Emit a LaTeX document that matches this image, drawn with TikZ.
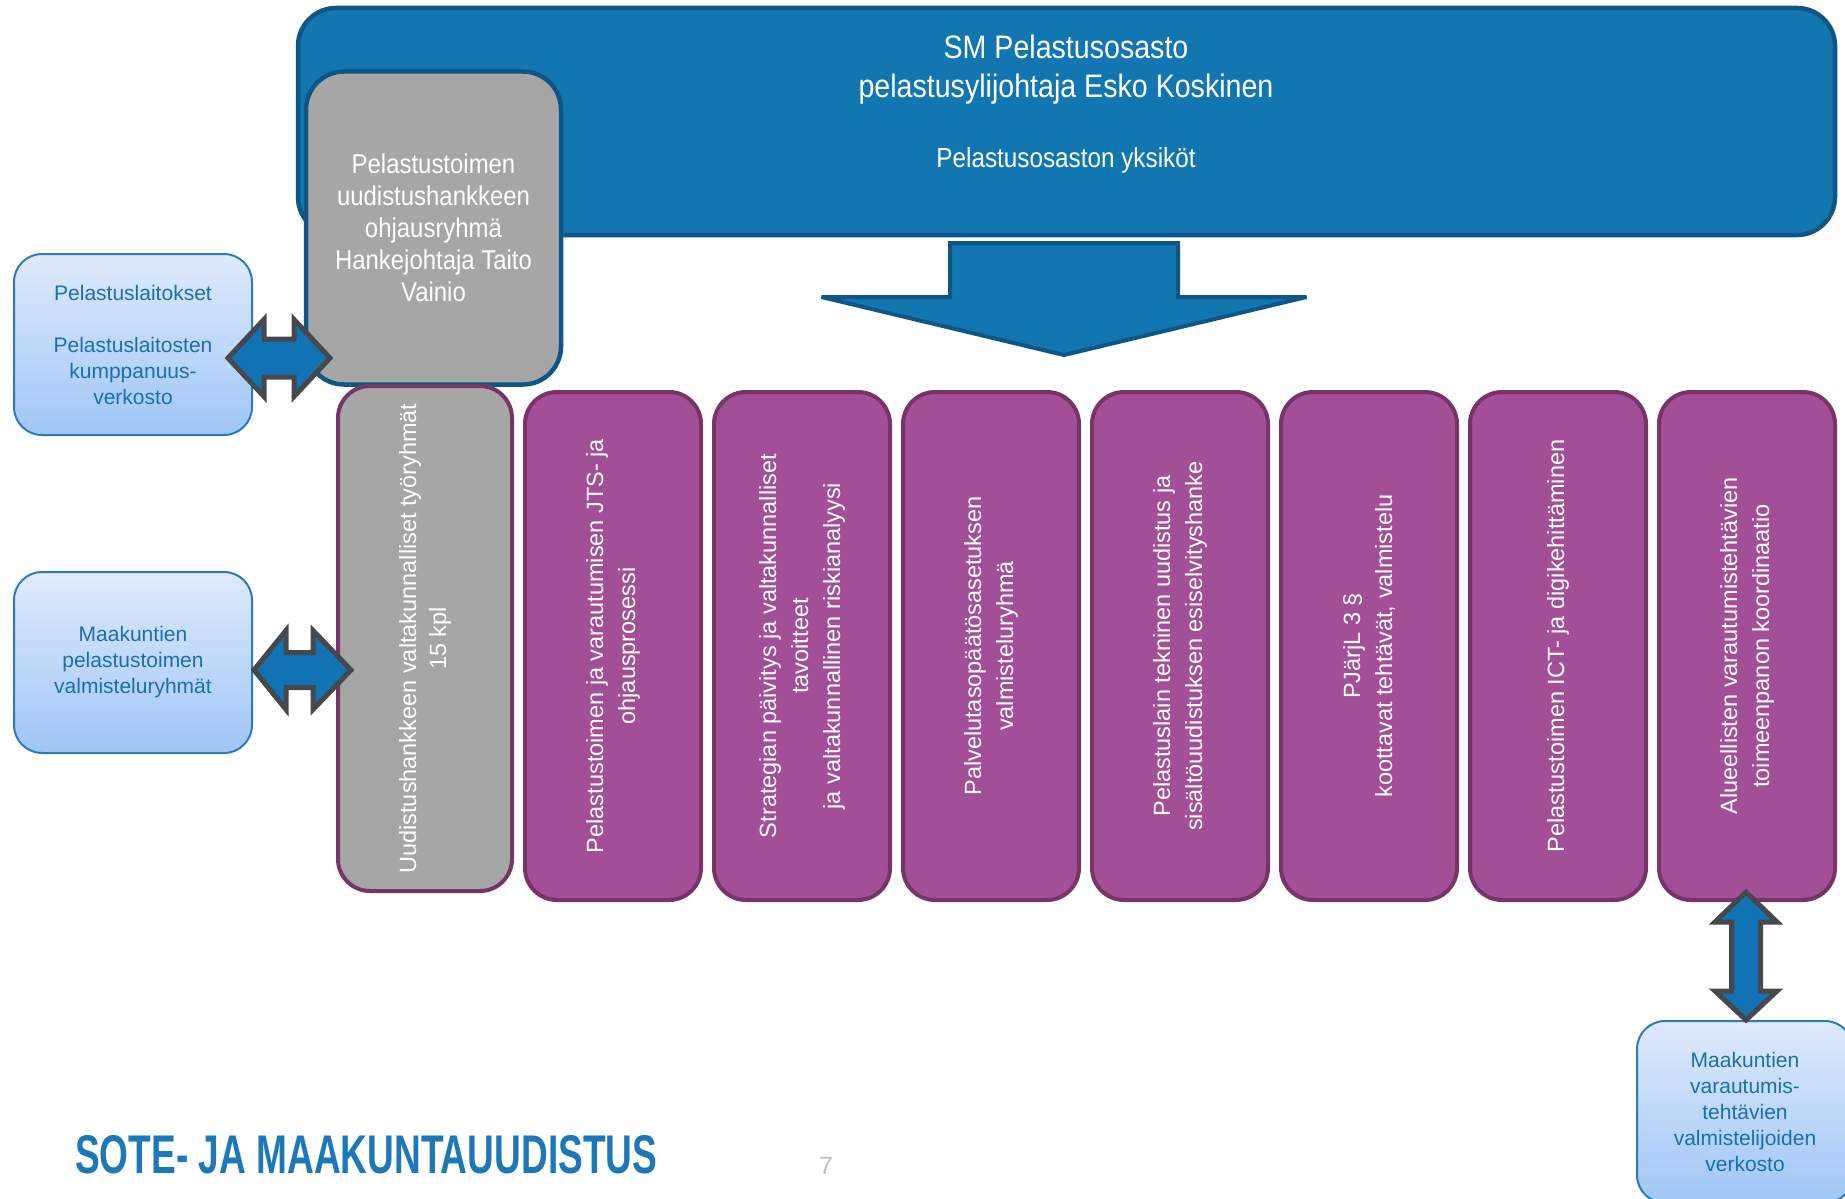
\documentclass[tikz,border=0pt]{standalone}
\usepackage{fontspec}
\setmainfont{Liberation Sans}
\newfontfamily\narrowfont[FakeStretch=0.88]{Liberation Sans}
\newfontfamily\sotefont[FakeStretch=0.68]{Liberation Sans}
\usepackage{tikz}
\definecolor{smblue}{HTML}{1276B1}
\definecolor{smedge}{HTML}{0E5785}
\definecolor{grayfill}{HTML}{A6A6A6}
\definecolor{purplefill}{HTML}{A34F97}
\definecolor{purpleedge}{HTML}{773467}
\definecolor{sidetop}{HTML}{DFEAFC}
\definecolor{sidebottom}{HTML}{9FC6F6}
\definecolor{sideedge}{HTML}{2A7BBF}
\definecolor{sidetext}{HTML}{1A6FB0}
\definecolor{arrowfill}{HTML}{1172B4}
\definecolor{arrowedge}{HTML}{46484B}
\definecolor{sotetext}{HTML}{1D78B8}
\begin{document}
\begin{tikzpicture}[x=1pt,y=-1pt,
  topbox/.style={fill=smblue,draw=smedge,line width=4.5,rounded corners=38,inner sep=0},
  toptext/.style={text=white,font=\narrowfont\fontsize{32.5}{39}\selectfont,inner sep=0},
  steerbox/.style={fill=grayfill,draw=smedge,line width=4.5,rounded corners=38,inner sep=0,
    text=white,align=center,font=\narrowfont\fontsize{27.2}{32}\selectfont},
  column/.style={rotate=90,fill=purplefill,draw=purpleedge,line width=4,rounded corners=32,
    inner sep=0,minimum width=508,minimum height=176,text=white,align=center,
    font=\fontsize{23.5}{32}\selectfont},
  graycolumn/.style={column,fill=grayfill,minimum width=505,minimum height=174,
    font=\fontsize{23.5}{30}\selectfont},
  sidebox/.style={top color=sidetop,bottom color=sidebottom,draw=sideedge,line width=2,
    rounded corners=28,inner sep=0,minimum width=238,minimum height=181,text=sidetext,
    align=center,font=\fontsize{21}{26}\selectfont},
  fatarrow/.style={fill=arrowfill,draw=arrowedge,line width=5,line join=miter},
  downarrow/.style={fill=smblue,draw=smedge,line width=4,line join=miter,miter limit=2}]
\useasboundingbox (0,0) rectangle (1845,1199);
\clip (0,0) rectangle (1845,1199);
\fill[white] (0,0) rectangle (1845,1199);

\node[topbox,minimum width=1537,minimum height=227] (sm) at (1066.5,121.5) {};
\node[toptext,anchor=base] (smname) at (1066,59) {SM Pelastusosasto};
\node[toptext,anchor=base] (smhead) at (1066,98) {pelastusylijohtaja Esko Koskinen};
\node[toptext,anchor=base,font=\narrowfont\fontsize{27.6}{33}\selectfont] (units) at (1066,167) {Pelastusosaston yksiköt};
\node[steerbox,minimum width=255,minimum height=313] (steer) at (433.5,228) {Pelastustoimen\\uudistushankkeen\\ohjausryhmä\\Hankejohtaja Taito\\Vainio};

\coordinate (down) at (1064,243);
\draw[downarrow] (down) ++(-114,0) -- ++(228,0) -- ++(0,54) -- ++(128.5,0) -- ++(-242.5,58) -- ++(-242.5,-58) -- ++(128.5,0) -- cycle;

\node[graycolumn] (groups) at (425,638.5) {Uudistushankkeen valtakunnalliset työryhmät\\15 kpl};
\node[column] (jts) at (613,646) {Pelastustoimen ja varautumisen JTS- ja\\ohjausprosessi};
\node[column] (strategy) at (802,646) {Strategian päivitys ja valtakunnalliset\\tavoitteet\\ja valtakunnallinen riskianalyysi};
\node[column] (service) at (991,646) {Palvelutasopäätösasetuksen\\valmisteluryhmä};
\node[column] (law) at (1180,646) {Pelastuslain tekninen uudistus ja\\sisältöuudistuksen esiselvityshanke};
\node[column] (pjarjl) at (1369,646) {PJärjL 3 §\\koottavat tehtävät, valmistelu};
\node[column] (ict) at (1558,646) {Pelastustoimen ICT- ja digikehittäminen};
\node[column] (regional) at (1747,646) {Alueellisten varautumistehtävien\\toimeenpanon koordinaatio};

\node[sidebox] (stations) at (133,344.5) {Pelastuslaitokset\\[26pt]Pelastuslaitosten\\kumppanuus-\\verkosto};
\node[sidebox] (regions) at (133,662.5) {Maakuntien\\pelastustoimen\\valmisteluryhmät};
\node[sidebox,minimum width=216,minimum height=182] (prep) at (1745,1112) {Maakuntien\\varautumis-\\tehtävien\\valmistelijoiden\\verkosto};

\coordinate (arr1) at (279,358);
\draw[fatarrow] (arr1) ++(-51,0) -- ++(36,-38.5) -- ++(0,19.5) -- ++(30,0) -- ++(0,-19.5) -- ++(36,38.5) -- ++(-36,38.5) -- ++(0,-19.5) -- ++(-30,0) -- ++(0,19.5) -- cycle;
\coordinate (arr2) at (302.5,670);
\draw[fatarrow] (arr2) ++(-48.5,0) -- ++(32,-39.5) -- ++(0,22) -- ++(27,0) -- ++(0,-22) -- ++(38,39.5) -- ++(-38,39.5) -- ++(0,-22) -- ++(-27,0) -- ++(0,22) -- cycle;
\coordinate (arr3) at (1746,956);
\draw[fatarrow] (arr3) ++(0,-64) -- ++(31,30) -- ++(-16.5,0) -- ++(0,69) -- ++(16.5,0) -- ++(-31,29) -- ++(-31,-29) -- ++(16.5,0) -- ++(0,-69) -- ++(-16.5,0) -- cycle;

\node[anchor=base west,inner sep=0,text=sotetext,font=\sotefont\bfseries\fontsize{54.5}{60}\selectfont] (sote) at (75,1173) {SOTE- JA MAAKUNTAUUDISTUS};
\node[anchor=base,inner sep=0,text=black!25,font=\fontsize{25}{28}\selectfont] (page) at (826,1174) {7};
\end{tikzpicture}
\end{document}
